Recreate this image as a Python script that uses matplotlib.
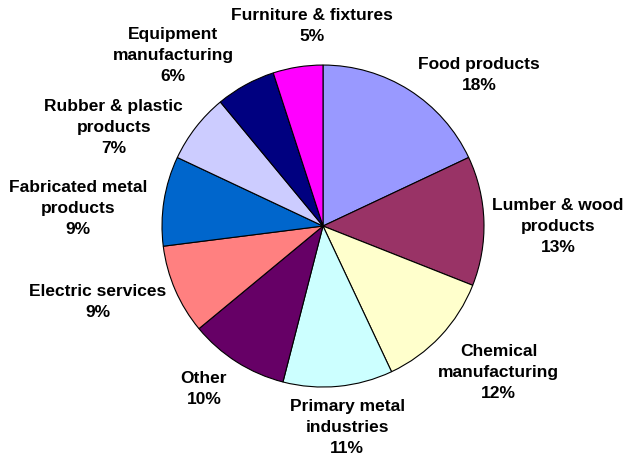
import matplotlib
matplotlib.use("Agg")
import matplotlib.pyplot as plt

# data (clockwise from 12 o'clock)
names = ["Food products", "Lumber & wood\nproducts", "Chemical\nmanufacturing",
         "Primary metal\nindustries", "Other", "Electric services",
         "Fabricated metal\nproducts", "Rubber & plastic\nproducts",
         "Equipment\nmanufacturing", "Furniture & fixtures"]
shares = [18, 13, 12, 11, 10, 9, 9, 7, 6, 5]
colors = ["#9999FF", "#993366", "#FFFFCC", "#CCFFFF", "#660066",
          "#FF8080", "#0066CC", "#CCCCFF", "#000080", "#FF00FF"]

# label centres, in pie radius units
label_pos = [(0.97, 0.94), (1.46, 0.0), (1.09, -0.91), (0.15, -1.25),
             (-0.74, -1.01), (-1.40, -0.47), (-1.52, 0.11), (-1.30, 0.61),
             (-0.93, 1.06), (-0.07, 1.24)]

plt.rcParams['font.family'] = ['Liberation Sans', 'DejaVu Sans']

fig = plt.figure(figsize=(6.27, 4.59), dpi=100)
ax = fig.add_axes([0, 0, 1, 1])
ax.pie(shares, colors=colors, startangle=90, counterclock=False,
       wedgeprops=dict(edgecolor="black", linewidth=0.8))

for nm, v, (x, y) in zip(names, shares, label_pos):
    ax.text(x, y, f"{nm}\n{v}%", ha="center", va="center", fontsize=12.5,
            fontweight="bold", linespacing=1.5)

ax.set_xlim(-2.006, 1.888)
ax.set_ylim(-1.447, 1.404)
ax.set_aspect("equal")
ax.axis("off")

fig.savefig("out.png", dpi=100)
